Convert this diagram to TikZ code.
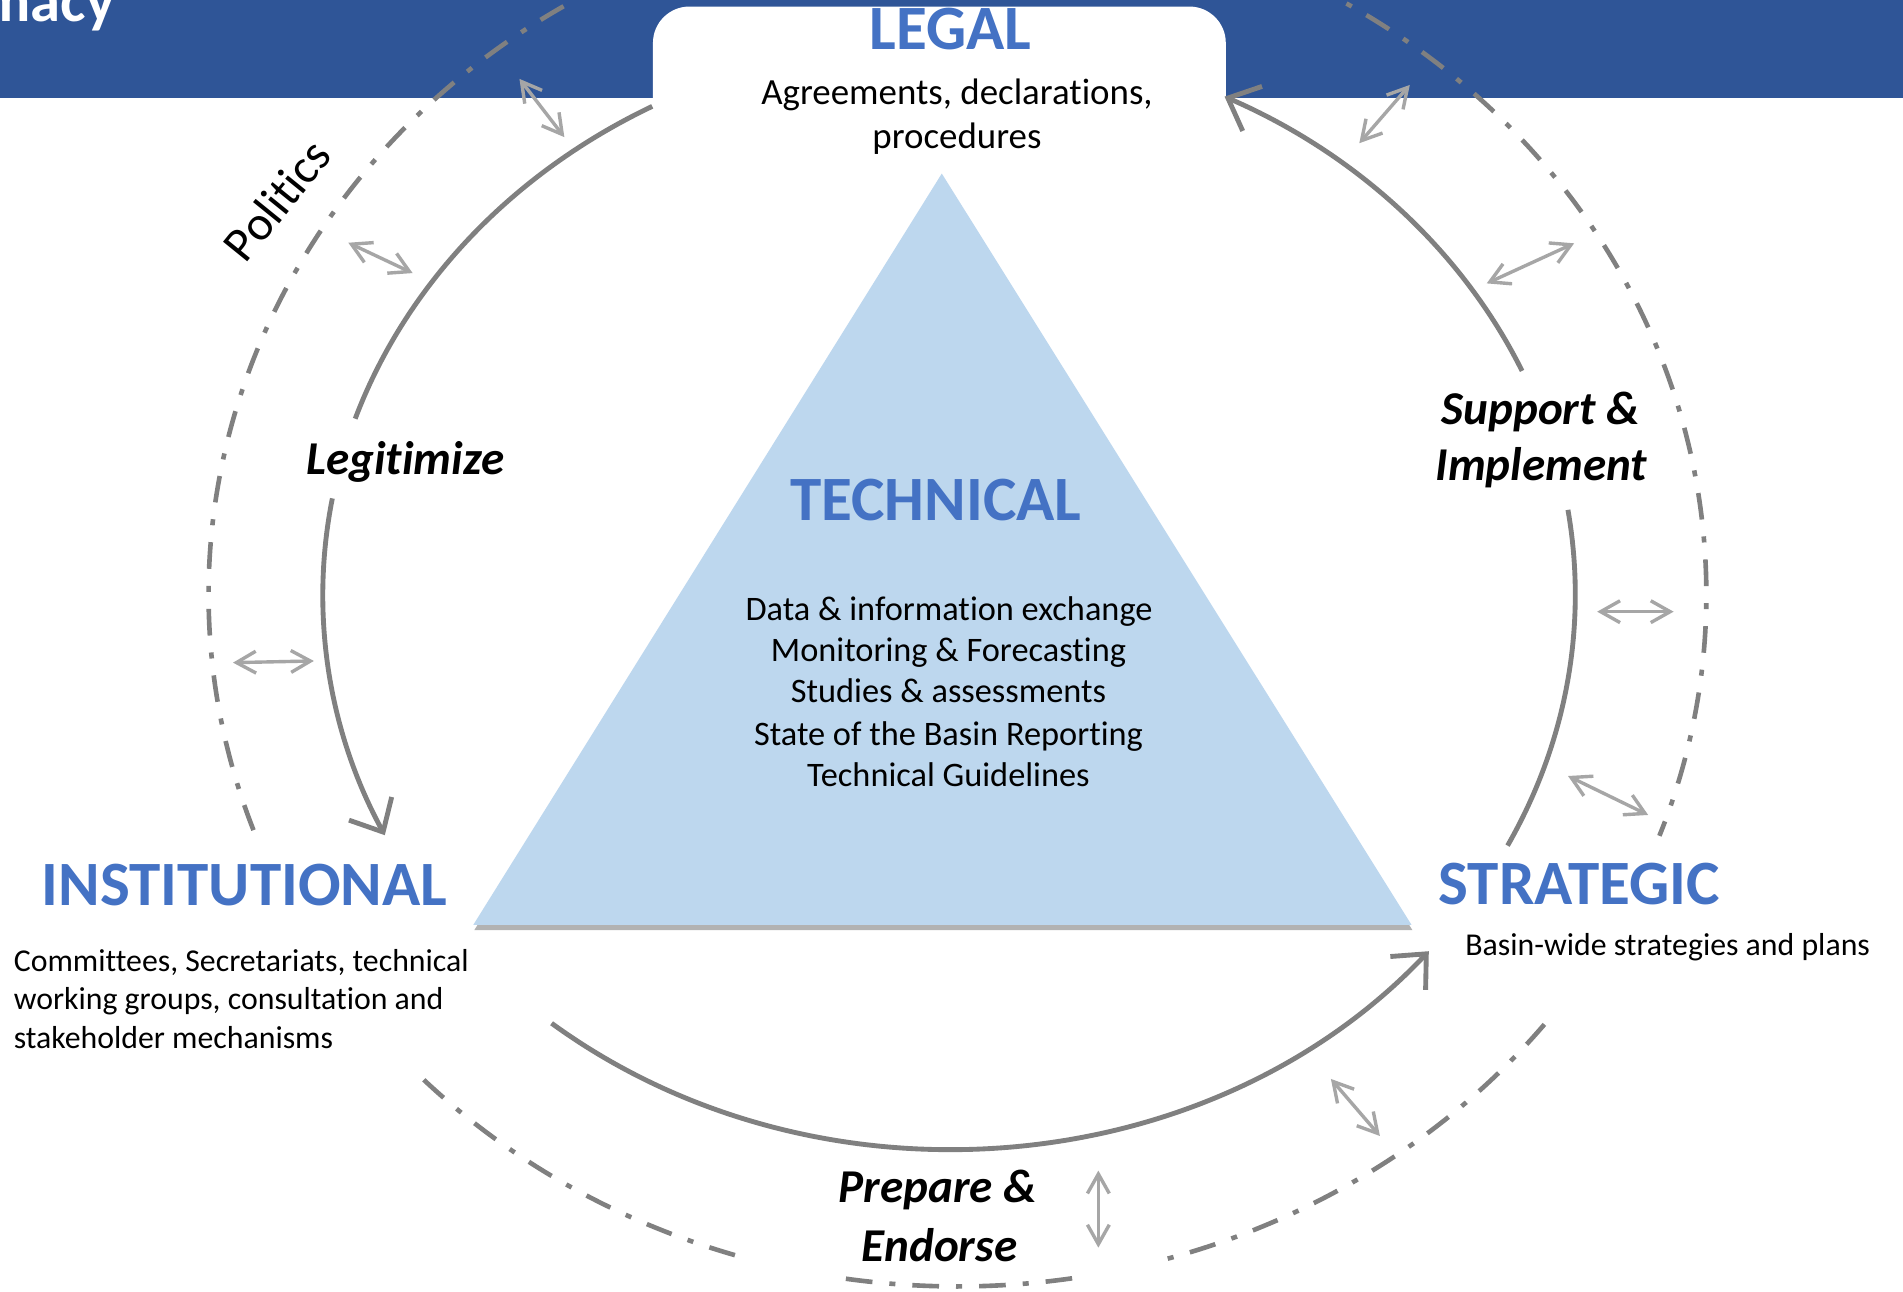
\documentclass[tikz,border=0pt]{standalone}
\usepackage{fontspec}
\setmainfont{Carlito}[Ligatures=NoCommon]
\usetikzlibrary{arrows.meta,shadows,calc}
\definecolor{bandblue}{HTML}{2F5597}
\definecolor{headblue}{HTML}{4472C4}
\definecolor{trifill}{HTML}{BDD7EE}
\definecolor{arcgray}{HTML}{808080}
\definecolor{linkgray}{HTML}{A6A6A6}
\begin{document}
\begin{tikzpicture}[x=0.5pt,y=-0.5pt,
  heading/.style={font=\fontsize{26}{30}\selectfont\bfseries, text=headblue, inner sep=0pt},
  bandtext/.style={font=\fontsize{25}{29}\selectfont\bfseries, text=white, inner sep=0pt},
  legaltext/.style={font=\fontsize{15.2}{18}\selectfont, inner sep=0pt},
  techtext/.style={font=\fontsize{14.15}{17}\selectfont, inner sep=0pt},
  smalltext/.style={font=\fontsize{13.1}{16}\selectfont, inner sep=0pt},
  verbtext/.style={font=\fontsize{19.4}{23}\selectfont\bfseries\itshape, inner sep=0pt},
  polytext/.style={font=\fontsize{20}{24}\selectfont, inner sep=0pt},
  legalbox/.style={fill=white, rounded corners=15pt, minimum width=236pt, minimum height=60pt, inner sep=0pt},
  mainarc/.style={draw=arcgray, line width=2pt},
  tipped/.style={-{Straight Barb[length=11pt,width=20pt]}},
  outerline/.style={draw=arcgray, line width=1.9pt, dash pattern=on 11pt off 7pt on 2.5pt off 7pt},
  link/.style={draw=linkgray, line width=1.4pt, {Straight Barb[length=8pt,width=9pt]}-{Straight Barb[length=8pt,width=9pt]}},
]
\useasboundingbox (0,0) rectangle (1568,1064);
\clip (0,0) rectangle (1568,1064);
\fill[white] (0,0) rectangle (1568,1064);

% top band
\fill[bandblue] (0,0) rectangle (1568,81);
\node[bandtext, anchor=base east] (dipl) at (95,18) {Diplomacy};

% legal box
\node[legalbox, anchor=north] (legalbox) at (774,5) {};

% triangle
\coordinate (apex) at (776,143);
\coordinate (bl) at (390,762);
\coordinate (br) at (1163,762);
\fill[trifill, drop shadow={shadow xshift=0.4pt, shadow yshift=-2.2pt, opacity=0.6}] (apex) -- (bl) -- (br) -- cycle;

% outer dash-dot ellipse
\coordinate (O) at (789,490);
\draw[outerline] ($(O)+(160.1:617 and 570)$) arc[start angle=160.1, end angle=380.4, x radius=617, y radius=570];
\draw[outerline] ($(O)+(38.4:617 and 570)$) arc[start angle=38.4, end angle=74.6, x radius=617, y radius=570];
\draw[outerline] ($(O)+(81.2:617 and 570)$) arc[start angle=81.2, end angle=98.9, x radius=617, y radius=570];
\draw[outerline] ($(O)+(107.3:617 and 570)$) arc[start angle=107.3, end angle=136.4, x radius=617, y radius=570];

% main cycle arcs
\coordinate (C) at (782,490);
\draw[mainarc] ($(C)+(241.7:516 and 457)$) arc[start angle=241.7, end angle=198.5, x radius=516, y radius=457];
\draw[mainarc, tipped] ($(C)+(190:516 and 457)$) arc[start angle=190, end angle=154.3, x radius=516, y radius=457];
\draw[mainarc, tipped] ($(C)+(129.4:516 and 457)$) arc[start angle=129.4, end angle=40, x radius=516, y radius=457];
\draw[mainarc] ($(C)+(26.9:516 and 457)$) arc[start angle=26.9, end angle=-8.8, x radius=516, y radius=457];
\draw[mainarc, tipped] ($(C)+(-23.8:516 and 457)$) arc[start angle=-23.8, end angle=-63.9, x radius=516, y radius=457];

% light double arrows
\coordinate (a1) at (428,65);     \coordinate (b1) at (465,113);
\coordinate (a2) at (287,200);    \coordinate (b2) at (340,225);
\coordinate (a3) at (192,546);    \coordinate (b3) at (258.6,544.6);
\coordinate (a4) at (1161.6,70);  \coordinate (b4) at (1120,118);
\coordinate (a5) at (1297,200.5); \coordinate (b5) at (1225,233.5);
\coordinate (a6) at (1316,504);   \coordinate (b6) at (1379,504);
\coordinate (a7) at (1292,639.4); \coordinate (b7) at (1358,671.5);
\coordinate (a8) at (1096.6,889); \coordinate (b8) at (1137,936);
\coordinate (a9) at (905,964.5);  \coordinate (b9) at (905,1028);
\foreach \i in {1,...,9} {\draw[link] (a\i) -- (b\i);}

% texts
\node[heading, anchor=base] (legal) at (783,41) {LEGAL};
\node[legaltext, anchor=base] (legal1) at (788.5,86) {Agreements, declarations,};
\node[legaltext, anchor=base] (legal2) at (788.5,122) {procedures};

\node[heading, anchor=base] (tech) at (771,429) {TECHNICAL};
\node[techtext, anchor=base] (t1) at (782,511) {Data \& information exchange};
\node[techtext, anchor=base] (t2) at (781.5,545) {Monitoring \& Forecasting};
\node[techtext, anchor=base] (t3) at (781.5,579) {Studies \& assessments};
\node[techtext, anchor=base] (t4) at (781.5,614) {State of the Basin Reporting};
\node[techtext, anchor=base] (t5) at (781.5,648) {Technical Guidelines};

\node[heading, anchor=base west] (inst) at (34,746.5) {INSTITUTIONAL};
\node[smalltext, anchor=base west] (i1) at (11,800.6) {Committees, Secretariats, technical};
\node[smalltext, anchor=base west] (i2) at (11,832) {working groups, consultation and};
\node[smalltext, anchor=base west] (i3) at (11,864) {stakeholder mechanisms};

\node[heading, anchor=base west] (strat) at (1185,745) {STRATEGIC};
\node[smalltext, anchor=base west] (s1) at (1207,787) {Basin-wide strategies and plans};

\node[verbtext, anchor=base west] (legit) at (252,390.6) {Legitimize};
\node[verbtext, anchor=base] (sup1) at (1269.5,350) {Support \&};
\node[verbtext, anchor=base] (sup2) at (1270,396) {Implement};
\node[verbtext, anchor=base] (prep1) at (772.5,991) {Prepare \&};
\node[verbtext, anchor=base] (prep2) at (774,1039.5) {Endorse};

\node[polytext, rotate=51] (pol) at (228,165) {Politics};
\end{tikzpicture}
\end{document}
